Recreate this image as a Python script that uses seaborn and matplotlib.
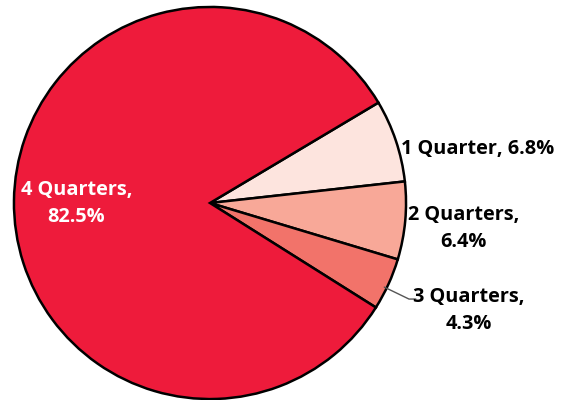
import matplotlib
matplotlib.use("Agg")
import matplotlib.pyplot as plt
import seaborn as sns

# data
labels = ["1 Quarter", "2 Quarters", "3 Quarters", "4 Quarters"]
shares = [6.8, 6.4, 4.3, 82.5]
colors = ["#FDE4DE", "#F8A898", "#F2736A", "#EE1B3B"]


def main():
    sns.set_theme(style="white")
    plt.rcParams["font.family"] = ["Open Sans", "DejaVu Sans"]

    fig = plt.figure(figsize=(5.61, 4.0), dpi=100)
    # square axes so the pie sits where it does in the original
    ax = fig.add_axes([12 / 561, -1 / 400, 396 / 561, 396 / 400])
    ax.pie(shares, colors=colors, startangle=30.8, counterclock=False,
           radius=1.0, wedgeprops=dict(edgecolor="black", linewidth=1.8))
    ax.set_xlim(-1.01, 1.01)
    ax.set_ylim(-1.01, 1.01)
    ax.set_aspect("equal")
    ax.axis("off")

    font = dict(fontsize=14.3, fontweight="bold", linespacing=1.45)
    ax.text(0.975, 0.278, f"{labels[0]}, {shares[0]}%", ha="left", va="center",
            color="black", **font)
    ax.text(1.293, -0.13, f"{labels[1]},\n{shares[1]}%", ha="center", va="center",
            color="black", **font)
    ax.text(1.318, -0.55, f"{labels[2]},\n{shares[2]}%", ha="center", va="center",
            color="black", **font)
    ax.text(-0.682, -0.003, f"{labels[3]},\n{shares[3]}%", ha="center", va="center",
            color="white", **font)

    # leader line for the small slice
    ax.plot([0.889, 1.015, 1.05], [-0.429, -0.49, -0.49], color="#555555",
            linewidth=1.0, clip_on=False)

    fig.savefig("out.png", dpi=100)


if __name__ == "__main__":
    main()
